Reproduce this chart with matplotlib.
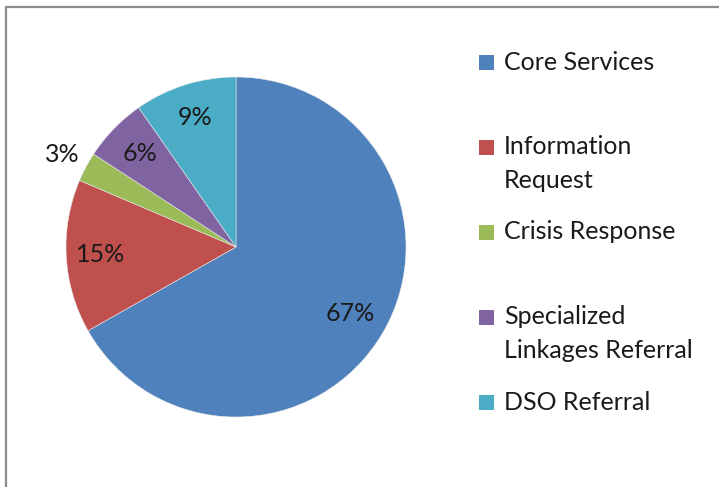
import matplotlib
matplotlib.use("Agg")
import matplotlib.pyplot as plt
import numpy as np
from matplotlib.patches import Rectangle

categories = ["Core Services", "Information\nRequest", "Crisis Response",
              "Specialized\nLinkages Referral", "DSO Referral"]
values = [66.8, 14.6, 2.8, 6.1, 9.7]
colors = ["#4F81BD", "#C0504D", "#9BBB59", "#8064A2", "#4BACC6"]
pct_labels = ["67%", "15%", "3%", "6%", "9%"]
label_dist = [0.78, 0.80, 1.16, 0.79, 0.80]

W, H = 719, 487
fig = plt.figure(figsize=(W / 100, H / 100), dpi=100)
plt.rcParams['font.family'] = ['Lato', 'DejaVu Sans']
FS = 18
TXT = '#1a1a1a'

cx, cy, R = 236, 247, 170
ax = fig.add_axes([(cx - R) / W, (H - cy - R) / H, 2 * R / W, 2 * R / H])
wedges, _ = ax.pie(values, colors=colors, startangle=90, counterclock=False,
                   radius=1, wedgeprops=dict(linewidth=0.4, edgecolor='#e8e8e8'))
ax.set_xlim(-1, 1)
ax.set_ylim(-1, 1)
ax.set_aspect('equal')
ax.axis('off')

for w, lab, d in zip(wedges, pct_labels, label_dist):
    ang = np.deg2rad((w.theta1 + w.theta2) / 2)
    ax.text(d * np.cos(ang), d * np.sin(ang), lab, ha='center', va='center',
            fontsize=FS, color=TXT)

# frame
fig.patches.append(Rectangle((6 / W, -0.05), 1.1, (H - 7) / H + 0.05,
                             transform=fig.transFigure, fill=False,
                             edgecolor='#8c8c8c', linewidth=1.6))

# legend
ys = [62, 147, 232, 317, 402]
for lab, c, y in zip(categories, colors, ys):
    fig.patches.append(Rectangle((479 / W, (H - y - 7.5) / H), 15 / W, 15 / H,
                                 transform=fig.transFigure, facecolor=c,
                                 edgecolor='none'))
    for i, line in enumerate(lab.split('\n')):
        fig.text(504 / W, (H - y - 34 * i) / H, line, ha='left', va='center',
                 fontsize=FS, color=TXT)

fig.savefig("out.png", dpi=100)
